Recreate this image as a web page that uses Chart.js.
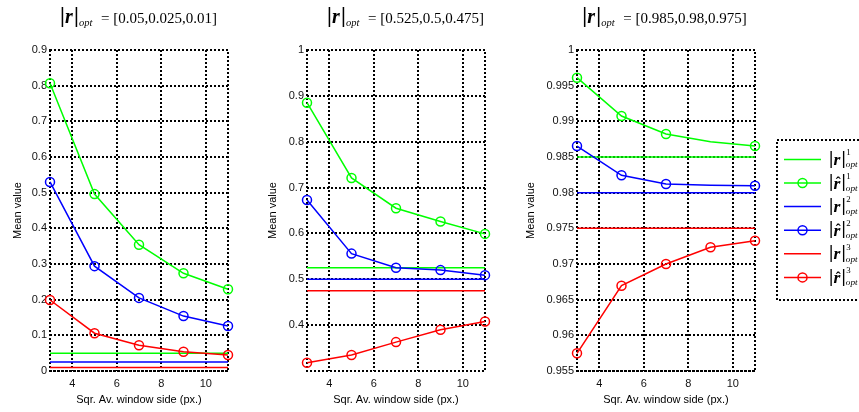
<!DOCTYPE html>
<html>
<head>
<meta charset="utf-8">
<script src="https://cdn.jsdelivr.net/npm/chart.js@4.4.1/dist/chart.umd.min.js"></script>
<style>
  html, body { margin: 0; padding: 0; background: #fff; }
  #wrap { position: relative; width: 859px; height: 412px; overflow: hidden; background: #fff; }
  .panel { position: absolute; top: 0; height: 412px; }
  .panel canvas { display: block; }
</style>
</head>
<body>
<div id="wrap">
  <div class="panel" style="left:0px;width:250px"><canvas id="cA" width="250" height="412"></canvas></div>
  <div class="panel" style="left:255px;width:245px"><canvas id="cB" width="245" height="412"></canvas></div>
  <div class="panel" style="left:513px;width:346px"><canvas id="cC" width="346" height="412"></canvas></div>
</div>
<script>
// Square averaging window sides (px.)
const windowSides = [3, 5, 7, 9, 11];
const xTickValues = [4, 6, 8, 10];

// Case A: |r|opt = [0.05, 0.025, 0.01]
const trueA = [0.05, 0.025, 0.01];
const estA1 = [0.807, 0.496, 0.354, 0.274, 0.229];
const estA2 = [0.530, 0.294, 0.205, 0.154, 0.126];
const estA3 = [0.199, 0.106, 0.072, 0.054, 0.045];
const yTicksA = [0, 0.1, 0.2, 0.3, 0.4, 0.5, 0.6, 0.7, 0.8, 0.9];

// Case B: |r|opt = [0.525, 0.5, 0.475]
const trueB = [0.525, 0.5, 0.475];
const estB1 = [0.885, 0.721, 0.655, 0.626, 0.599];
const estB2 = [0.673, 0.556, 0.525, 0.520, 0.509];
const estB3 = [0.318, 0.335, 0.363, 0.390, 0.408];
const yTicksB = [0.4, 0.5, 0.6, 0.7, 0.8, 0.9, 1];

// Case C: |r|opt = [0.985, 0.98, 0.975]
const trueC = [0.985, 0.98, 0.975];
const estC1 = [0.99612, 0.99075, 0.98822, 0.98714, 0.98654];
const estC2 = [0.98654, 0.98243, 0.98121, 0.98103, 0.98098];
const estC3 = [0.95748, 0.96696, 0.97000, 0.97234, 0.97327];
const yTicksC = [0.955, 0.96, 0.965, 0.97, 0.975, 0.98, 0.985, 0.99, 0.995, 1];

const SERIF = '"Liberation Serif", "Times New Roman", serif';
const SANS = '"Liberation Sans", Arial, Helvetica, sans-serif';
const COLORS = ['#00ff00', '#0000ff', '#ff0000'];
const MARK_R = 4.5;

// |r| with optional hat, superscript index and "opt" subscript
function drawNorm(ctx, x, b, s, hat, sup) {
  ctx.save();
  ctx.fillStyle = '#000';
  ctx.textBaseline = 'alphabetic';
  ctx.textAlign = 'center';
  ctx.font = `bold ${22 * s}px ${SERIF}`;
  ctx.fillText('|', x + 1.3 * s, b - 1.5 * s);
  ctx.fillText('|', x + 15.4 * s, b - 1.5 * s);
  ctx.textAlign = 'left';
  ctx.font = `bold italic ${20 * s}px ${SERIF}`;
  ctx.fillText('r', x + 4 * s, b);
  if (hat) {
    ctx.textAlign = 'center';
    ctx.font = `bold ${17 * s}px ${SERIF}`;
    ctx.fillText('\u02C6', x + 9.4 * s, b - 1.5 * s);
  }
  ctx.textAlign = 'left';
  if (sup) {
    ctx.font = `${10 * s}px ${SERIF}`;
    ctx.fillText(String(sup), x + 18.5 * s, b - 11 * s);
  }
  ctx.font = `italic ${10.5 * s}px ${SERIF}`;
  ctx.fillText('opt', x + 18 * s, b + 2.5 * s);
  ctx.restore();
}

// Title above each panel: |r|opt = [values]
const normTitle = {
  id: 'normTitle',
  afterDraw(chart, args, o) {
    const ctx = chart.ctx;
    const a = chart.chartArea;
    const text = '= [' + o.values.join(',') + ']';
    ctx.save();
    ctx.font = `15px ${SERIF}`;
    const lead = 40;
    const w = lead + ctx.measureText(text).width;
    const cx = (a.left + a.right) / 2 + (o.dx || 0);
    const x0 = cx - w / 2;
    const base = 23;
    drawNorm(ctx, x0, base, 1, false, null);
    ctx.fillStyle = '#000';
    ctx.textAlign = 'left';
    ctx.textBaseline = 'alphabetic';
    ctx.font = `15px ${SERIF}`;
    ctx.fillText(text, x0 + lead, base);
    ctx.restore();
  }
};

// Axes box
const frame = {
  id: 'frame',
  beforeDatasetsDraw(chart) {
    const { ctx, chartArea: a } = chart;
    ctx.save();
    ctx.strokeStyle = '#000';
    ctx.lineWidth = 2;
    ctx.setLineDash([2, 2]);
    ctx.strokeRect(a.left, a.top, a.right - a.left, a.bottom - a.top);
    ctx.restore();
  }
};

// Legend box at the right of the last panel
const normLegend = {
  id: 'normLegend',
  afterDraw(chart, args, o) {
    if (!o.show) return;
    const ctx = chart.ctx;
    const L = o.left, T = o.top, B = o.bottom;
    ctx.save();
    ctx.strokeStyle = '#000';
    ctx.lineWidth = 2;
    ctx.setLineDash([2, 2]);
    ctx.beginPath();
    ctx.moveTo(chart.width + 4, T);
    ctx.lineTo(L, T);
    ctx.lineTo(L, B);
    ctx.lineTo(chart.width + 4, B);
    ctx.stroke();
    ctx.setLineDash([]);
    chart.data.datasets.forEach((ds, i) => {
      const y = T + 19.4 + i * 23.6;
      ctx.strokeStyle = ds.borderColor;
      ctx.lineWidth = 1.5;
      ctx.beginPath();
      ctx.moveTo(L + 7, y);
      ctx.lineTo(L + 44, y);
      ctx.stroke();
      if (ds.isEstimate) {
        ctx.beginPath();
        ctx.arc(L + 25.5, y, MARK_R, 0, Math.PI * 2);
        ctx.stroke();
      }
      drawNorm(ctx, L + 53, y + 5.5, 0.88, ds.isEstimate, ds.index);
    });
    ctx.restore();
  }
};

function buildDatasets(trueVals, ests, hiddenMarks) {
  const out = [];
  trueVals.forEach((v, i) => {
    out.push({
      label: 'r' + (i + 1),
      index: i + 1,
      isEstimate: false,
      data: [{ x: windowSides[0], y: v }, { x: windowSides[windowSides.length - 1], y: v }],
      borderColor: COLORS[i],
      borderWidth: 1.5,
      pointRadius: 0,
      clip: false,
      order: 10 - 2 * i
    });
    out.push({
      label: 'r\u0302' + (i + 1),
      index: i + 1,
      isEstimate: true,
      data: windowSides.map((x, j) => ({ x, y: ests[i][j] })),
      borderColor: COLORS[i],
      borderWidth: 1.5,
      pointStyle: 'circle',
      pointRadius: windowSides.map((_, j) => (hiddenMarks && hiddenMarks[i] && hiddenMarks[i][j]) ? 0 : MARK_R),
      pointBorderColor: COLORS[i],
      pointBackgroundColor: 'rgba(0,0,0,0)',
      pointBorderWidth: 1.5,
      clip: false,
      order: 9 - 2 * i
    });
  });
  return out;
}

function makeChart(id, cfg) {
  const tickFont = { family: SANS, size: 11 };
  return new Chart(document.getElementById(id), {
    type: 'line',
    data: { datasets: buildDatasets(cfg.trueVals, cfg.ests, cfg.hidden) },
    options: {
      responsive: false,
      animation: false,
      events: [],
      layout: { padding: { top: 50, right: cfg.padRight, bottom: 0, left: 0 } },
      elements: { line: { tension: 0 } },
      scales: {
        x: {
          type: 'linear',
          min: windowSides[0],
          max: windowSides[windowSides.length - 1],
          afterBuildTicks: (s) => { s.ticks = xTickValues.map(v => ({ value: v })); },
          afterFit: (s) => { s.height = 41; },
          ticks: { font: tickFont, color: '#111', padding: 6, maxRotation: 0, callback: (v) => String(v) },
          grid: { color: '#000', lineWidth: 2, drawTicks: false },
          border: { display: false, dash: [2, 2] },
          title: { display: true, text: 'Sqr. Av. window side (px.)', font: { family: SANS, size: 11 }, color: '#000', padding: { top: 0, bottom: 5 } }
        },
        y: {
          type: 'linear',
          min: cfg.yMin,
          max: cfg.yMax,
          afterBuildTicks: (s) => { s.ticks = cfg.yTicks.map(v => ({ value: v })); },
          afterFit: (s) => { s.width = cfg.yWidth; },
          ticks: { font: tickFont, color: '#111', padding: 3, callback: (v) => String(v) },
          grid: { color: '#000', lineWidth: 2, drawTicks: false },
          border: { display: false, dash: [2, 2] },
          title: { display: true, text: 'Mean value', font: { family: SANS, size: 11 }, color: '#000', padding: { top: 11, bottom: 0 } }
        }
      },
      plugins: {
        legend: { display: false },
        tooltip: { enabled: false },
        normTitle: { values: cfg.trueVals, dx: cfg.titleDx },
        normLegend: { show: !!cfg.legend, left: cfg.legend ? cfg.legend.left : 0, top: 140, bottom: 300 }
      }
    },
    plugins: [frame, normTitle, normLegend]
  });
}

makeChart('cA', {
  trueVals: trueA, ests: [estA1, estA2, estA3],
  yMin: 0, yMax: 0.9, yTicks: yTicksA, yWidth: 50, padRight: 22, titleDx: 0
});
makeChart('cB', {
  trueVals: trueB, ests: [estB1, estB2, estB3],
  yMin: 0.3, yMax: 1, yTicks: yTicksB, yWidth: 52, padRight: 15, titleDx: 10
});
makeChart('cC', {
  trueVals: trueC, ests: [estC1, estC2, estC3],
  hidden: [[false, false, false, true, false], [false, false, false, true, false], null],
  yMin: 0.955, yMax: 1, yTicks: yTicksC, yWidth: 64, padRight: 104, titleDx: -1,
  legend: { left: 264 }
});
</script>
</body>
</html>
